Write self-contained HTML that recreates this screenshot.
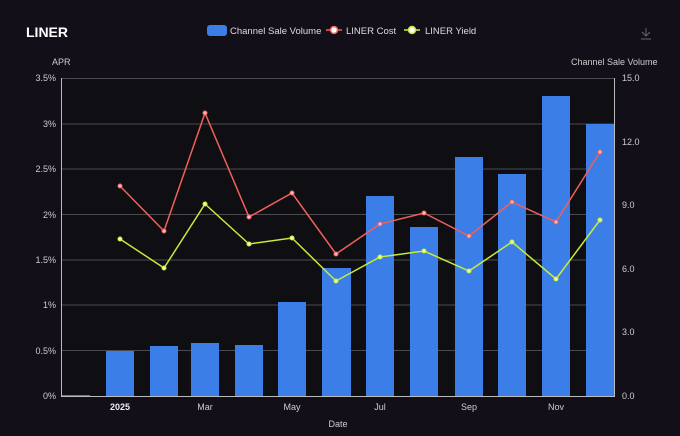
<!DOCTYPE html><html><head><style>body{margin:0;background:#130f19;}svg{display:block;font-family:"Liberation Sans",sans-serif}</style></head><body>
<svg width="680" height="436" viewBox="0 0 680 436">
<rect width="680" height="436" fill="#130f19"/>
<rect x="62" y="78" width="552" height="318" fill="#0f0e13"/>
<text x="26" y="37" fill="#fff" font-size="14" font-weight="bold">LINER</text>
<rect x="207" y="25" width="20" height="11" rx="3" fill="#3b7ee8"/>
<text x="230" y="34" fill="#ddd" font-size="9.5">Channel Sale Volume</text>
<line x1="326" y1="30" x2="342" y2="30" stroke="#f0605a" stroke-width="1.5"/><circle cx="334" cy="30" r="3.5" fill="#fff" stroke="#f0605a" stroke-width="1.5"/>
<text x="346" y="34" fill="#ddd" font-size="9.5">LINER Cost</text>
<line x1="404" y1="30" x2="420" y2="30" stroke="#c6ec3a" stroke-width="1.5"/><circle cx="412" cy="30" r="3.5" fill="#fff" stroke="#c6ec3a" stroke-width="1.5"/>
<text x="425" y="34" fill="#ddd" font-size="9.5">LINER Yield</text>
<path d="M646 28v8M642 32l4 4 4-4M641 39h10" stroke="#666" fill="none" stroke-width="1"/>
<text x="52" y="65" fill="#ccc" font-size="9">APR</text>
<text x="571" y="65" fill="#ccc" font-size="9">Channel Sale Volume</text>
<g stroke="#4a4a50" stroke-width="1">
<line x1="62" y1="78.5" x2="614" y2="78.5"/><line x1="62" y1="124" x2="614" y2="124"/><line x1="62" y1="169" x2="614" y2="169"/><line x1="62" y1="214.5" x2="614" y2="214.5"/><line x1="62" y1="260" x2="614" y2="260"/><line x1="62" y1="305" x2="614" y2="305"/><line x1="62" y1="350.5" x2="614" y2="350.5"/>
</g>
<g fill="#ccc" font-size="9" text-anchor="end">
<text x="56" y="81">3.5%</text><text x="56" y="127">3%</text><text x="56" y="172">2.5%</text><text x="56" y="218">2%</text><text x="56" y="263">1.5%</text><text x="56" y="308">1%</text><text x="56" y="354">0.5%</text><text x="56" y="399">0%</text>
</g>
<g fill="#ccc" font-size="9">
<text x="622" y="81">15.0</text><text x="622" y="145">12.0</text><text x="622" y="208">9.0</text><text x="622" y="272">6.0</text><text x="622" y="335">3.0</text><text x="622" y="399">0.0</text>
</g>
<g fill="#3b7ee8">
<rect x="62" y="395" width="28" height="1"/>
<rect x="106" y="351" width="28" height="45"/><rect x="150" y="346" width="28" height="50"/><rect x="191" y="343" width="28" height="53"/><rect x="235" y="345" width="28" height="51"/><rect x="278" y="302" width="28" height="94"/><rect x="322" y="268" width="29" height="128"/><rect x="366" y="196" width="28" height="200"/><rect x="410" y="227" width="28" height="169"/><rect x="455" y="157" width="28" height="239"/><rect x="498" y="174" width="28" height="222"/><rect x="542" y="96" width="28" height="300"/><rect x="586" y="124" width="28" height="272"/>
</g>
<line x1="61.5" y1="78" x2="61.5" y2="396" stroke="#bbb"/><line x1="614.5" y1="78" x2="614.5" y2="396" stroke="#bbb"/><line x1="61" y1="396.5" x2="615" y2="396.5" stroke="#bbb"/>
<polyline fill="none" stroke="#f0605a" stroke-width="1.5" points="120,186 164,231 205,113 249,217 292,193 336,254 380,224 424,213 469,236 512,202 556,222 600,152"/>
<polyline fill="none" stroke="#c6ec3a" stroke-width="1.5" points="120,239 164,268 205,204 249,244 292,238 336,281 380,257 424,251 469,271 512,242 556,279 600,220"/>
<g fill="#fbb" stroke="#f0605a" stroke-width="1"><circle cx="120" cy="186" r="2"/><circle cx="164" cy="231" r="2"/><circle cx="205" cy="113" r="2"/><circle cx="249" cy="217" r="2"/><circle cx="292" cy="193" r="2"/><circle cx="336" cy="254" r="2"/><circle cx="380" cy="224" r="2"/><circle cx="424" cy="213" r="2"/><circle cx="469" cy="236" r="2"/><circle cx="512" cy="202" r="2"/><circle cx="556" cy="222" r="2"/><circle cx="600" cy="152" r="2"/></g>
<g fill="#efa" stroke="#c6ec3a" stroke-width="1"><circle cx="120" cy="239" r="2"/><circle cx="164" cy="268" r="2"/><circle cx="205" cy="204" r="2"/><circle cx="249" cy="244" r="2"/><circle cx="292" cy="238" r="2"/><circle cx="336" cy="281" r="2"/><circle cx="380" cy="257" r="2"/><circle cx="424" cy="251" r="2"/><circle cx="469" cy="271" r="2"/><circle cx="512" cy="242" r="2"/><circle cx="556" cy="279" r="2"/><circle cx="600" cy="220" r="2"/></g>
<g fill="#ccc" font-size="9" text-anchor="middle">
<text x="120" y="410" font-weight="bold" fill="#eee">2025</text><text x="205" y="410">Mar</text><text x="292" y="410">May</text><text x="380" y="410">Jul</text><text x="469" y="410">Sep</text><text x="556" y="410">Nov</text>
<text x="338" y="427">Date</text>
</g>
</svg></body></html>
